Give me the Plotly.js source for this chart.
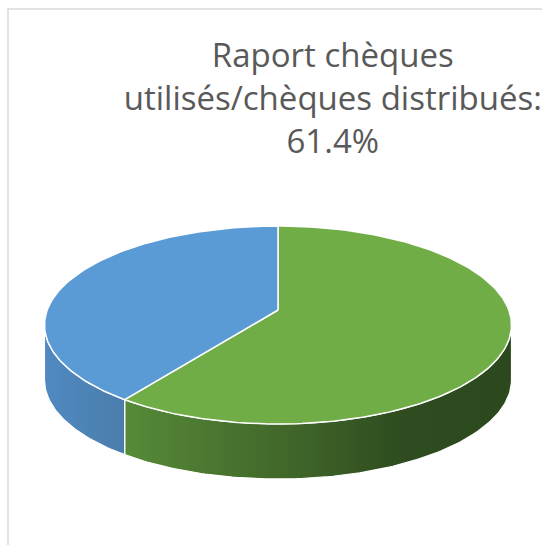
<!DOCTYPE html>
<html>
<head>
<meta charset="utf-8">
<script src="https://cdn.plot.ly/plotly-3.0.1.min.js"></script>
<style>
  html, body { margin: 0; padding: 0; background: #ffffff; }
  #chart { width: 542px; height: 545px; }
</style>
</head>
<body>
<div id="chart"></div>
<script>
// ---- data ----
const labels = ['Chèques utilisés', 'Chèques non utilisés'];
const values = [61.4, 38.6];
const topColors = ['#70AD47', '#5B9BD5'];
const wallScales = [
  [[0, '#568a38'], [0.45, '#3f6429'], [0.72, '#2e4c1f'], [1, '#2c491d']],
  [[0, '#5089c2'], [1, '#4a7dab']]
];

// ---- geometry (pixel-mapped axes) ----
const cx = 278, cy = 325, rx = 233.5, ry = 99, depth = 55, tipDy = -15;

function pt(deg, dy) {
  const t = deg * Math.PI / 180;
  return [cx + rx * Math.sin(t), cy - ry * Math.cos(t) + dy];
}
function arc(a, b, dy) {
  const xs = [], ys = [];
  const n = Math.max(2, Math.ceil(Math.abs(b - a)));
  for (let i = 0; i <= n; i++) {
    const p = pt(a + (b - a) * i / n, dy);
    xs.push(p[0]); ys.push(p[1]);
  }
  return [xs, ys];
}

const total = values.reduce((s, v) => s + v, 0);
const spans = [];
let acc = 0;
values.forEach(v => { const a = acc; acc += v / total * 360; spans.push([a, acc]); });

const traces = [];
// side walls (front half only: 90..270 deg)
spans.forEach((s, i) => {
  const a = Math.max(s[0], 90), b = Math.min(s[1], 270);
  if (b <= a) return;
  const top = arc(a, b, 0);
  const bot = arc(b, a, depth);
  traces.push({
    type: 'scatter', mode: 'lines',
    x: top[0].concat(bot[0], [top[0][0]]),
    y: top[1].concat(bot[1], [top[1][0]]),
    fill: 'toself',
    fillgradient: { type: 'horizontal', colorscale: wallScales[i] },
    line: { color: '#ffffff', width: 1.2 },
    hoverinfo: 'skip', showlegend: false
  });
});
// top faces
spans.forEach((s, i) => {
  const ar = arc(s[0], s[1], 0);
  traces.push({
    type: 'scatter', mode: 'lines',
    x: [cx].concat(ar[0], [cx]),
    y: [cy + tipDy].concat(ar[1], [cy + tipDy]),
    fill: 'toself', fillcolor: topColors[i],
    line: { color: '#ffffff', width: 1.5 },
    name: labels[i], text: values[i] + '%',
    hoverinfo: 'name+text', showlegend: false
  });
});

const layout = {
  width: 542, height: 545,
  margin: { l: 0, r: 0, t: 0, b: 0 },
  paper_bgcolor: '#ffffff', plot_bgcolor: '#ffffff',
  showlegend: false,
  title: {
    text: 'Raport chèques<br>utilisés/chèques distribués:<br>' + values[0].toFixed(1) + '%',
    x: 0.614, xanchor: 'center', xref: 'paper',
    y: 0.877, yanchor: 'top', yref: 'container',
    font: { family: 'Open Sans, sans-serif', size: 33, color: '#595959' }
  },
  xaxis: { range: [0, 542], visible: false, fixedrange: true },
  yaxis: { range: [545, 0], visible: false, fixedrange: true },
  shapes: [{
    type: 'rect', xref: 'paper', yref: 'paper',
    x0: 8 / 542, x1: 1.05, y0: 1 - 9 / 545, y1: -0.05,
    line: { color: '#d9d9d9', width: 1.5 }, layer: 'below'
  }]
};

Plotly.newPlot('chart', traces, layout, { displayModeBar: false, staticPlot: true });
</script>
</body>
</html>
